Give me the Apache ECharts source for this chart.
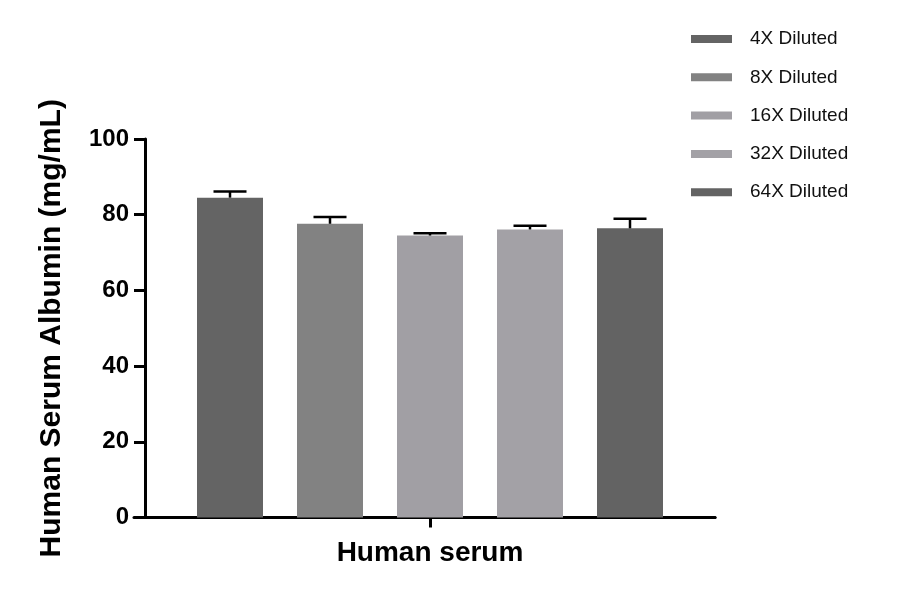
<!DOCTYPE html>
<html>
<head>
<meta charset="utf-8">
<script src="https://cdn.jsdelivr.net/npm/echarts@6/dist/echarts.min.js"></script>
<style>html,body{margin:0;padding:0;background:#fff}#c{width:900px;height:594px}</style>
</head>
<body>
<div id="c"></div>
<script>
const groupLabel = ['Human serum'];
const seriesNames = ['4X Diluted', '8X Diluted', '16X Diluted', '32X Diluted', '64X Diluted'];
const means = [84.5, 77.6, 74.5, 76.1, 76.4];
const errors = [1.6, 1.8, 0.6, 1.0, 2.5];
const colors = ['#646464', '#828282', '#a19fa4', '#a3a1a6', '#636363'];
const yTicks = [0, 20, 40, 60, 80, 100];

const chart = echarts.init(document.getElementById('c'));
const font = '"Liberation Sans", Arial, sans-serif';

const barSeries = seriesNames.map((name, i) => ({
  name: name,
  type: 'bar',
  xAxisIndex: 0,
  yAxisIndex: 0,
  barWidth: 66,
  barGap: '-100%',
  itemStyle: { color: colors[i] },
  data: [[i, means[i]]],
  z: 2
}));

const errSeries = {
  type: 'custom',
  xAxisIndex: 0,
  yAxisIndex: 0,
  z: 5,
  silent: true,
  data: means.map((m, i) => [i, m, errors[i]]),
  renderItem: function (params, api) {
    const x = api.value(0), m = api.value(1), e = api.value(2);
    const base = api.coord([x, m]);
    const top = api.coord([x, m + e]);
    const hw = api.size([0.165, 0])[0];
    return {
      type: 'group',
      children: [
        { type: 'line', shape: { x1: base[0], y1: base[1], x2: top[0], y2: top[1] }, style: { stroke: '#000', lineWidth: 2.5 } },
        { type: 'line', shape: { x1: top[0] - hw, y1: top[1], x2: top[0] + hw, y2: top[1] }, style: { stroke: '#000', lineWidth: 2.5 } }
      ]
    };
  }
};

chart.setOption({
  animation: false,
  backgroundColor: '#fff',
  legend: {
    orient: 'vertical',
    left: 686,
    top: 24,
    itemWidth: 41,
    itemHeight: 8,
    itemGap: 18.3,
    icon: 'rect',
    data: seriesNames,
    textStyle: { fontFamily: font, fontSize: 19, color: '#111', lineHeight: 20, padding: [0, 0, 0, 13] }
  },
  grid: [
    { left: 145, right: 185, top: 139, bottom: 76.5 },
    { left: 134, right: 185, top: 139, bottom: 76.5 }
  ],
  xAxis: [
    { type: 'value', gridIndex: 0, min: -0.85, max: 4.85, show: false },
    {
      type: 'category', gridIndex: 0, position: 'bottom', data: groupLabel,
      boundaryGap: true,
      axisLine: { show: true, onZero: false, lineStyle: { color: '#000', width: 3 } },
      axisTick: { show: true, alignWithLabel: true, length: 10, lineStyle: { color: '#000', width: 3 } },
      axisLabel: { show: false },
      name: groupLabel[0],
      nameLocation: 'middle',
      nameGap: 22,
      nameTextStyle: { fontFamily: font, fontSize: 28, fontWeight: 'bold', color: '#000' }
    },
    {
      type: 'value', gridIndex: 1, min: 0, max: 1,
      axisLine: { show: true, onZero: false, lineStyle: { color: '#000', width: 3 } },
      axisTick: { show: false }, axisLabel: { show: false }, splitLine: { show: false }
    }
  ],
  yAxis: [
    {
      type: 'value', gridIndex: 0, min: yTicks[0], max: yTicks[yTicks.length - 1], interval: 20,
      axisLine: { show: true, onZero: false, lineStyle: { color: '#000', width: 3 } },
      axisTick: { show: true, length: 11, lineStyle: { color: '#000', width: 3 } },
      axisLabel: { fontFamily: font, fontSize: 24, fontWeight: 'bold', color: '#000', margin: 16 },
      splitLine: { show: false },
      name: 'Human Serum Albumin (mg/mL)',
      nameLocation: 'middle',
      nameGap: 78,
      nameRotate: 90,
      nameTextStyle: { fontFamily: font, fontSize: 30, fontWeight: 'bold', color: '#000' }
    },
    { type: 'value', gridIndex: 1, show: false }
  ],
  series: barSeries.concat([errSeries])
});
</script>
</body>
</html>
